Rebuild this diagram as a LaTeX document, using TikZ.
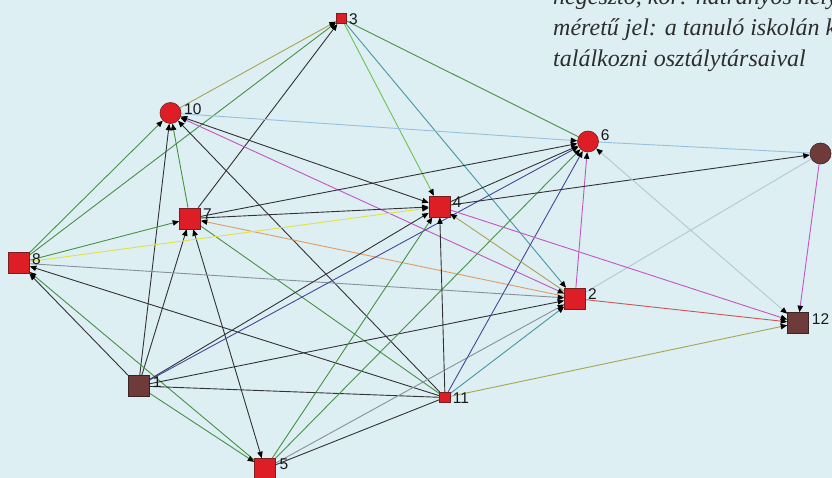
\documentclass[tikz,border=0pt]{standalone}
\usepackage{fontspec}
\setmainfont{Liberation Serif}
\newfontfamily\labfont{Liberation Sans}
\usetikzlibrary{arrows.meta}
\pgfdeclarelayer{bg}
\pgfsetlayers{bg,main}
\definecolor{bgcol}{RGB}{221,239,242}
\definecolor{nodered}{RGB}{221,30,38}
\definecolor{rededge}{RGB}{120,30,30}
\definecolor{nodebrown}{RGB}{110,58,58}
\definecolor{brownedge}{RGB}{60,35,35}
\definecolor{labcol}{RGB}{25,25,25}
\definecolor{txtcol}{RGB}{45,45,45}
\definecolor{cblack}{RGB}{50,50,55}
\definecolor{cgreen}{RGB}{70,145,70}
\definecolor{clgreen}{RGB}{110,195,80}
\definecolor{colive}{RGB}{165,165,85}
\definecolor{cteal}{RGB}{70,150,165}
\definecolor{clblue}{RGB}{150,192,222}
\definecolor{cmag}{RGB}{195,85,195}
\definecolor{cyel}{RGB}{225,225,70}
\definecolor{ctan}{RGB}{222,155,105}
\definecolor{cgray}{RGB}{135,145,155}
\definecolor{cnavy}{RGB}{70,70,155}
\definecolor{cred}{RGB}{205,85,85}
\definecolor{clgray}{RGB}{180,200,212}
\begin{document}
\begin{tikzpicture}[x=1pt,y=-1pt,
  sq/.style={rectangle, draw=rededge, fill=nodered, minimum size=21pt, inner sep=0pt, line width=0.6pt},
  ssq/.style={sq, minimum size=10.5pt},
  circ/.style={circle, draw=rededge, fill=nodered, minimum size=21pt, inner sep=0pt, line width=0.6pt},
  brn/.style={fill=nodebrown, draw=brownedge},
  lab/.style={font=\labfont\fontsize{15.5}{16}\selectfont, anchor=west, inner sep=0pt, text=labcol},
  txt/.style={font=\itshape\fontsize{24}{30}\selectfont, anchor=base west, inner sep=0pt, text=txtcol},
  e/.style={line width=0.9pt},
  to/.style={e, -{Triangle[length=6.5pt,width=5.4pt,color=black]}},
  both/.style={e, {Triangle[length=6.5pt,width=5.4pt,color=black]}-{Triangle[length=6.5pt,width=5.4pt,color=black]}},
]
\useasboundingbox (0,0) rectangle (832,478);
\clip (0,0) rectangle (832,478);

% nodes
\node[sq, brn] (n1) at (138.5,386) {};
\node[sq] (n2) at (575,298.5) {};
\node[ssq] (n3) at (341.5,18.5) {};
\node[sq] (n4) at (439.5,206.5) {};
\node[sq] (n5) at (265,469) {};
\node[circ] (n6) at (588,141.5) {};
\node[sq] (n7) at (190,218.5) {};
\node[sq] (n8) at (19,263) {};
\node[circ] (n10) at (170.5,113) {};
\node[ssq] (n11) at (445,397.5) {};
\node[sq, brn] (n12) at (798,323) {};
\node[circ, brn] (nc) at (820.5,153.5) {};

% labels
\node[lab] (l1) at (152.7,382) {1};
\node[lab] (l2) at (588,294) {2};
\node[lab] (l3) at (349,19) {3};
\node[lab] (l4) at (452.7,202) {4};
\node[lab] (l5) at (279.3,464.5) {5};
\node[lab] (l6) at (600.7,135.3) {6};
\node[lab] (l7) at (203,214.5) {7};
\node[lab] (l8) at (32,258.7) {8};
\node[lab] (l10) at (184,108.8) {10};
\node[lab] (l11) at (452.7,398) {11};
\node[lab] (l12) at (811.7,318.7) {12};

% caption text (cut by the frame, as in the reference)
\node[txt] (t1) at (553,5) {negesztő, kör: hátrányos hely};
\node[txt] (t2) at (553,36) {méretű jel: a tanuló iskolán k};
\node[txt] (t3) at (553,66.5) {találkozni osztálytársaival};

\begin{pgfonlayer}{bg}
\fill[bgcol] (0,0) rectangle (832,478);
% edges into 3
\draw[to, cgreen] (n8) -- (n3);
\draw[to, colive] (n10) -- (n3);
\draw[to, cblack] (n7) -- (n3);
% edges from 3
\draw[to, clgreen] (n3) -- (n4);
\draw[to, cteal] (n3) -- (n2);
\draw[e, cgreen] (n3) -- (n6);
% edges into 10
\draw[to, cgreen] (n8) -- (n10);
\draw[to, cblack] (n1) -- (n10);
\draw[to, cgreen] (n7) -- (n10);
\draw[to, cblack] (n11) -- (n10);
\draw[both, cblack] (n4) -- (n10);
\draw[both, cmag] (n2) -- (n10);
\draw[to, clblue] (n10) -- (n6);
% edges of 7
\draw[to, cblack] (n7) -- (n6);
\draw[to, cblack] (n7) -- (n4);
\draw[to, ctan] (n2) -- (n7);
\draw[to, cgreen] (n8) -- (n7);
\draw[to, cblack] (n1) -- (n7);
\draw[both, cblack] (n5) -- (n7);
\draw[e, cgreen] (n11) -- (n7);
% edges of 8
\draw[to, cyel] (n8) -- (n4);
\draw[to, cgray] (n8) -- (n2);
\draw[to, cblack] (n11) -- (n8);
\draw[to, cblack] (n1) -- (n8);
\draw[to, cgreen] (n5) -- (n8);
% edges of 1
\draw[to, cgreen] (n1) -- (n5);
\draw[to, cblack] (n1) -- (n4);
\draw[to, cnavy] (n1) -- (n6);
\draw[to, cblack] (n1) -- (n2);
\draw[e, cblack] (n1) -- (n11);
% edges of 5
\draw[to, cgreen] (n5) -- (n4);
\draw[to, cgreen] (n5) -- (n6);
\draw[to, cgray] (n5) -- (n2);
\draw[e, cblack] (n5) -- (n11);
% edges of 11
\draw[to, cblack] (n11) -- (n4);
\draw[to, cnavy] (n11) -- (n6);
\draw[to, cteal] (n11) -- (n2);
\draw[to, colive] (n11) -- (n12);
% edges of 2
\draw[to, cred] (n2) -- (n12);
\draw[to, cmag] (n2) -- (n6);
\draw[e, clgray] (n2) -- (nc);
\draw[to, colive] (n2) -- (n4);
% edges of 4
\draw[to, cblack] (n4) -- (n6);
\draw[to, cblack] (n4) -- (nc);
\draw[to, cmag] (n4) -- (n12);
% edges of 6 and the brown circle
\draw[e, clblue] (n6) -- (nc);
\draw[both, clgray] (n6) -- (n12);
\draw[to, cmag] (nc) -- (n12);
\end{pgfonlayer}
\end{tikzpicture}
\end{document}
